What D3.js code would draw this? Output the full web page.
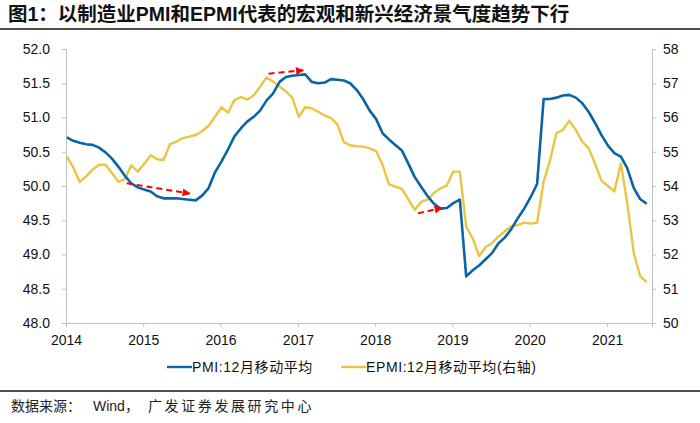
<!DOCTYPE html>
<html>
<head>
<meta charset="utf-8">
<script src="https://cdn.jsdelivr.net/npm/d3@7"></script>
<style>
    body { margin: 0; background: #fff; }
    text { font-family: "Liberation Sans", Arial, "Noto Sans CJK SC", sans-serif; }
</style>
</head>
<body>
<div id="chart"></div>
<script>
// PMI 12m moving avg, monthly from 2014-01 (left axis)
let pmi = [50.71, 50.66, 50.63, 50.61, 50.60, 50.56, 50.49, 50.40, 50.28, 50.15, 50.04, 49.98,
    49.95, 49.92, 49.85, 49.82, 49.82, 49.82, 49.81, 49.80, 49.79, 49.86, 49.97, 50.20,
    50.36, 50.53, 50.72, 50.84, 50.94, 51.01, 51.10, 51.25, 51.35, 51.52, 51.59, 51.61,
    51.62, 51.63, 51.52, 51.50, 51.51, 51.56, 51.55, 51.54, 51.50, 51.40, 51.27, 51.10,
    50.98, 50.77, 50.68, 50.60, 50.52, 50.33, 50.13, 49.99, 49.85, 49.74, 49.67, 49.68,
    49.75, 49.80, 48.68, 48.77, 48.84, 48.93, 49.02, 49.16, 49.25, 49.37, 49.53, 49.67,
    49.84, 50.03, 51.27, 51.27, 51.29, 51.32, 51.33, 51.29, 51.21, 51.08, 50.92, 50.74,
    50.59, 50.48, 50.43, 50.26, 49.97, 49.81, 49.74];

// EPMI 12m moving avg (right axis)
let epmi = [54.86, 54.55, 54.12, 54.28, 54.48, 54.62, 54.62, 54.38, 54.12, 54.20, 54.60, 54.42,
    54.64, 54.90, 54.78, 54.76, 55.22, 55.29, 55.40, 55.44, 55.49, 55.60, 55.76, 56.02,
    56.30, 56.14, 56.50, 56.60, 56.52, 56.65, 56.90, 57.17, 57.05, 56.90, 56.76, 56.58,
    56.02, 56.30, 56.27, 56.17, 56.06, 55.99, 55.80, 55.28, 55.19, 55.16, 55.15, 55.10,
    55.02, 54.62, 54.05, 53.98, 53.92, 53.62, 53.30, 53.54, 53.60, 53.80, 53.93, 54.02,
    54.42, 54.42, 52.81, 52.47, 51.95, 52.22, 52.33, 52.52, 52.68, 52.83, 52.86, 52.93,
    52.90, 52.93, 54.13, 54.74, 55.54, 55.64, 55.91, 55.64, 55.30, 55.10, 54.65, 54.15,
    54.00, 53.84, 54.66, 53.50, 52.04, 51.37, 51.19];

let years = [2014, 2015, 2016, 2017, 2018, 2019, 2020, 2021];
let leftTicks = [48.0, 48.5, 49.0, 49.5, 50.0, 50.5, 51.0, 51.5, 52.0];
let rightTicks = [50, 51, 52, 53, 54, 55, 56, 57, 58];

// red dashed arrows: [start month, start value, end month, end value] on the left axis
let arrows = [
    [9.3, 50.04, 19.1, 49.89],
    [31.3, 51.64, 36.7, 51.69],
    [54.5, 49.60, 58.2, 49.68]
];

let legendItems = ["PMI:12月移动平均", "EPMI:12月移动平均(右轴)"];
let colors = ["#0a65a6", "#ebc542"];

let title = "图1：以制造业PMI和EPMI代表的宏观和新兴经济景气度趋势下行";
let sourceParts = ["数据来源：", "Wind，", "广发证券发展研究中心"];

let w = 700, h = 423;
let monthDate = i => new Date(2014, 0, 5 + Math.round(i * 30.44));

let svg = d3.select("#chart")
    .append("svg")
    .attr("width", w)
    .attr("height", h);

svg.append("text")
    .attr("x", 8)
    .attr("y", 21)
    .attr("font-size", 19.5)
    .attr("font-weight", "bold")
    .attr("fill", "#111")
    .text(title);

svg.append("rect")
    .attr("x", 0).attr("y", 28)
    .attr("width", w).attr("height", 2)
    .attr("fill", "#4d4d4d");

let x = d3.scaleTime()
    .domain([new Date(2014, 0, 1), new Date(2021, 7, 1)])
    .range([66, 652]);
let yL = d3.scaleLinear().domain([48, 52]).range([323, 49]);
let yR = d3.scaleLinear().domain([50, 58]).range([323, 49]);

let styleAxis = g => {
    g.select(".domain").attr("stroke", "#bfbfbf");
    g.selectAll(".tick line").attr("stroke", "#bfbfbf");
    g.selectAll(".tick text").attr("fill", "#111").attr("font-size", 14)
        .attr("font-family", "'Liberation Sans', Arial, sans-serif");
};

svg.append("g")
    .attr("transform", "translate(0,323)")
    .call(d3.axisBottom(x)
        .tickValues(years.map(d => new Date(d, 0, 1)))
        .tickFormat(d3.timeFormat("%Y"))
        .tickSizeOuter(0)
        .tickSize(4)
        .tickPadding(8))
    .call(styleAxis);

svg.append("g")
    .attr("transform", "translate(66,0)")
    .call(d3.axisLeft(yL)
        .tickValues(leftTicks)
        .tickFormat(d3.format(".1f"))
        .tickSizeOuter(0)
        .tickSize(4)
        .tickPadding(12))
    .call(styleAxis);

svg.append("g")
    .attr("transform", "translate(652,0)")
    .call(d3.axisRight(yR)
        .tickValues(rightTicks)
        .tickFormat(d3.format("d"))
        .tickSizeOuter(0)
        .tickSize(4)
        .tickPadding(7))
    .call(styleAxis);

let lineL = d3.line().x((d, i) => x(monthDate(i))).y(d => yL(d));
let lineR = d3.line().x((d, i) => x(monthDate(i))).y(d => yR(d));

svg.append("path")
    .datum(epmi)
    .attr("d", lineR)
    .attr("fill", "none")
    .attr("stroke", colors[1])
    .attr("stroke-width", 2.4)
    .attr("stroke-linejoin", "round");

svg.append("path")
    .datum(pmi)
    .attr("d", lineL)
    .attr("fill", "none")
    .attr("stroke", colors[0])
    .attr("stroke-width", 2.6)
    .attr("stroke-linejoin", "round");

// arrow head
svg.append("defs").append("marker")
    .attr("id", "head")
    .attr("viewBox", "0 0 10 10")
    .attr("refX", 9).attr("refY", 5)
    .attr("markerWidth", 10).attr("markerHeight", 8)
    .attr("markerUnits", "userSpaceOnUse")
    .attr("orient", "auto")
    .append("path")
    .attr("d", "M0,0L10,5L0,10Z")
    .attr("fill", "#ff0000");

svg.selectAll(".arrow")
    .data(arrows)
    .join("line")
    .attr("class", "arrow")
    .attr("x1", d => x(monthDate(d[0])))
    .attr("y1", d => yL(d[1]))
    .attr("x2", d => x(monthDate(d[2])))
    .attr("y2", d => yL(d[3]))
    .attr("stroke", "#ff0000")
    .attr("stroke-width", 2)
    .attr("stroke-dasharray", "6,4")
    .attr("marker-end", "url(#head)");

// legend
let legendX = [167, 341];
legendItems.forEach((t, k) => {
    svg.append("line")
        .attr("x1", legendX[k]).attr("x2", legendX[k] + 25)
        .attr("y1", 367).attr("y2", 367)
        .attr("stroke", colors[k])
        .attr("stroke-width", 2.4);
    svg.append("text")
        .attr("x", legendX[k] + 25)
        .attr("y", 372)
        .attr("font-size", 14)
        .attr("letter-spacing", 0.6)
        .attr("fill", "#111")
        .text(t);
});

svg.append("rect")
    .attr("x", 0).attr("y", 390)
    .attr("width", w).attr("height", 2)
    .attr("fill", "#4d4d4d");

let src = svg.append("text")
    .attr("y", 411)
    .attr("font-size", 14)
    .attr("fill", "#222");
src.append("tspan").attr("x", 11).text(sourceParts[0]);
src.append("tspan").attr("x", 93).text(sourceParts[1]);
src.append("tspan").attr("x", 148).attr("letter-spacing", 2.6).text(sourceParts[2]);
</script>
</body>
</html>
